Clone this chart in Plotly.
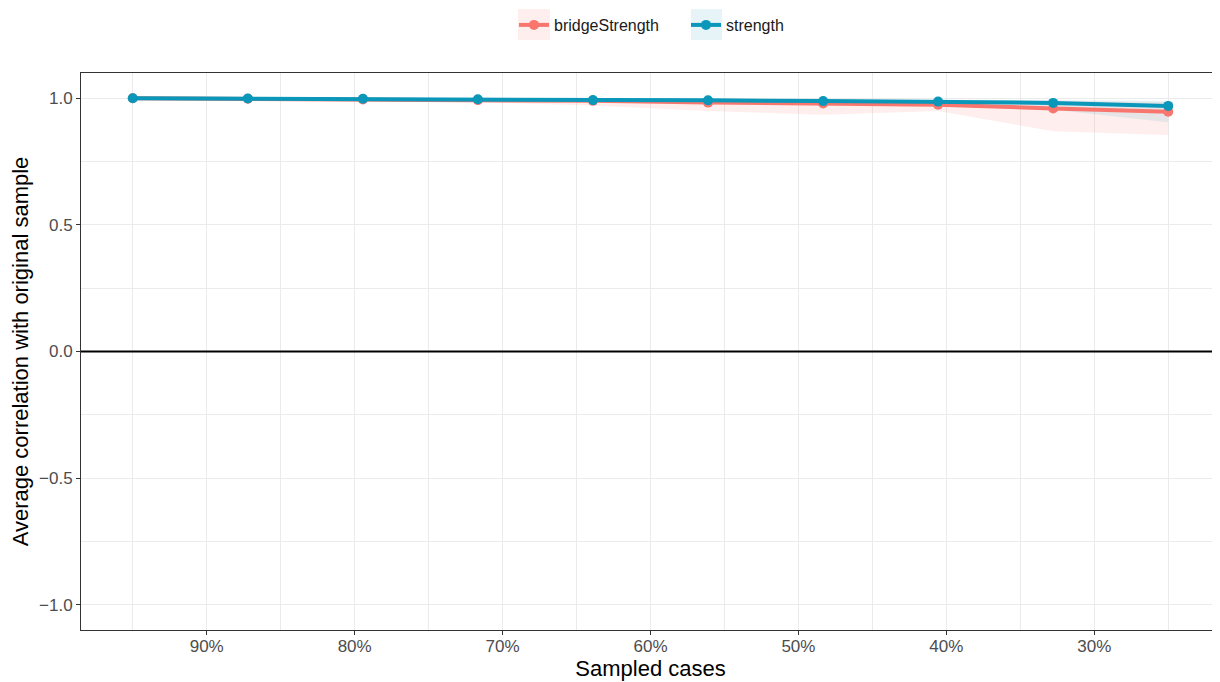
import plotly.graph_objects as go

# Sampled proportion of cases (x) and average correlations with original sample
cases = [0.95, 0.8722, 0.7944, 0.7167, 0.6389, 0.5611, 0.4833, 0.4056, 0.3278, 0.25]

bridge_mean = [1.0, 0.998, 0.995, 0.993, 0.990, 0.983, 0.980, 0.975, 0.960, 0.947]
bridge_lower = [1.0, 0.995, 0.990, 0.985, 0.972, 0.950, 0.935, 0.950, 0.870, 0.855]
bridge_upper = [1.0, 1.0, 1.0, 0.999, 0.998, 0.997, 0.995, 0.993, 0.990, 0.985]

strength_mean = [1.0, 0.999, 0.998, 0.996, 0.993, 0.992, 0.989, 0.987, 0.982, 0.970]
strength_lower = [1.0, 0.998, 0.996, 0.993, 0.988, 0.985, 0.980, 0.975, 0.955, 0.905]
strength_upper = [1.0, 1.0, 1.0, 1.0, 0.999, 0.998, 0.997, 0.995, 0.993, 0.990]

series_names = ["bridgeStrength", "strength"]
x_tick_vals = [0.9, 0.8, 0.7, 0.6, 0.5, 0.4, 0.3]
x_tick_text = ["90%", "80%", "70%", "60%", "50%", "40%", "30%"]
y_tick_vals = [-1.0, -0.5, 0.0, 0.5, 1.0]
y_tick_text = ["\u22121.0", "\u22120.5", "0.0", "0.5", "1.0"]

RED = "#F8766D"
BLUE = "#0A97B9"
RED_FILL = "rgba(248,118,109,0.12)"
BLUE_FILL = "rgba(10,151,185,0.10)"
FONT = "Liberation Sans, Arial, sans-serif"

# page geometry (plot area in page pixels; the page body adds an 8px offset)
OFF = 8
PL, PR, PT, PB = 81, 1220, 72, 630
PW, PH = PR - PL, PB - PT
FIG_H = 674

fig = go.Figure()

# ribbons
for name, lo, hi, fillc in [
    (series_names[0], bridge_lower, bridge_upper, RED_FILL),
    (series_names[1], strength_lower, strength_upper, BLUE_FILL),
]:
    fig.add_trace(go.Scatter(x=cases, y=lo, mode="lines", line=dict(width=0),
                             showlegend=False, hoverinfo="skip", legendgroup=name))
    fig.add_trace(go.Scatter(x=cases, y=hi, mode="lines", line=dict(width=0),
                             fill="tonexty", fillcolor=fillc, showlegend=False,
                             hoverinfo="skip", legendgroup=name))

# lines + points
for name, vals, col in [
    (series_names[0], bridge_mean, RED),
    (series_names[1], strength_mean, BLUE),
]:
    fig.add_trace(go.Scatter(x=cases, y=vals, mode="lines+markers", name=name,
                             legendgroup=name,
                             line=dict(color=col, width=4),
                             marker=dict(color=col, size=10)))

# zero line
fig.add_shape(type="line", xref="paper", yref="y", x0=0, x1=1, y0=0, y1=0,
              line=dict(color="black", width=2), layer="above")

# legend key backgrounds
for x0, x1, col in [(518, 550, RED_FILL), (691, 722, BLUE_FILL)]:
    fig.add_shape(type="rect", xref="paper", yref="paper",
                  x0=(x0 - PL) / PW, x1=(x1 - PL) / PW,
                  y0=(PB - 39) / PH, y1=(PB - 8) / PH,
                  fillcolor=col, line=dict(width=0), layer="below")

axis_common = dict(
    showline=True, linecolor="#333333", linewidth=1, mirror=True,
    ticks="outside", ticklen=4, tickcolor="#333333", tickwidth=1,
    tickfont=dict(family=FONT, size=17, color="#4D4D4D"),
    showgrid=True, gridcolor="#EBEBEB", gridwidth=1.2, zeroline=False,
)

fig.update_layout(
    width=PR - OFF, height=FIG_H,
    margin=dict(l=PL - OFF, r=0, t=PT - OFF, b=FIG_H - (PB - OFF)),
    paper_bgcolor="white", plot_bgcolor="white",
    font=dict(family=FONT, size=17, color="#1A1A1A"),
    showlegend=True,
    legend=dict(orientation="h", x=(522 - 8 - PL) / PW, xanchor="left",
                y=1 + (PT - 24) / PH, yanchor="middle",
                font=dict(family=FONT, size=16, color="#1A1A1A"),
                bgcolor="rgba(0,0,0,0)", itemwidth=30,
                entrywidth=127, entrywidthmode="pixels"),
    xaxis=dict(
        range=[0.985, 0.215], tickvals=x_tick_vals, ticktext=x_tick_text,
        ticklabelstandoff=-3,
        minor=dict(tickvals=[0.95, 0.85, 0.75, 0.65, 0.55, 0.45, 0.35, 0.25],
                   showgrid=True, gridcolor="#EBEBEB", gridwidth=0.6, ticks=""),
        title=dict(text="Sampled cases", font=dict(family=FONT, size=22, color="black"),
                   standoff=1),
        **axis_common,
    ),
    yaxis=dict(
        range=[-1.1, 1.1], tickvals=y_tick_vals, ticktext=y_tick_text,
        minor=dict(tickvals=[-0.75, -0.25, 0.25, 0.75],
                   showgrid=True, gridcolor="#EBEBEB", gridwidth=0.6, ticks=""),
        title=dict(text="Average correlation with original sample",
                   font=dict(family=FONT, size=22, color="black"), standoff=4),
        **axis_common,
    ),
)

fig.write_html("out.html")
